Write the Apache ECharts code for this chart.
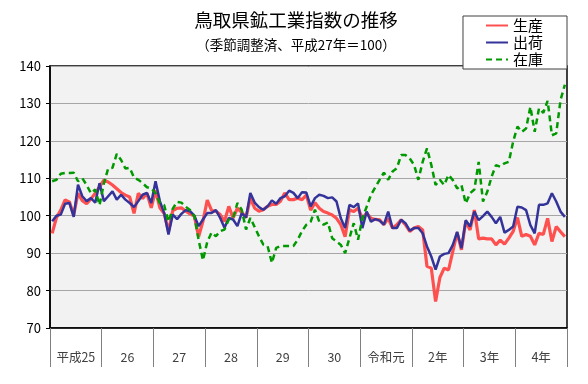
<!DOCTYPE html>
<html><head><meta charset="utf-8">
<script src="https://cdn.jsdelivr.net/npm/echarts@6/dist/echarts.min.js"></script>
<style>html,body{margin:0;padding:0;background:#fff}#c{width:588px;height:384px}</style>
</head><body><div id="c"></div>
<script>
const yearLabels = ['平成25','26','27','28','29','30','令和元','2年','3年','4年'];
const seriesNames = ['生産','出荷','在庫'];
const production = [
 95.3, 99.5, 101.5, 104.2, 103.7, 100.2, 106, 104, 103.2, 104.5, 106, 107.7,
 109.5, 109, 108.2, 107.2, 106.2, 105.5, 105, 100.6, 106, 104.6, 106, 102.1,
 106.8, 102.1, 100.6, 95.8, 101.4, 102, 102.1, 101.2, 100.5, 99.9, 94.4, 98.5,
 104.2, 101.4, 101.2, 100.3, 98.5, 102.5, 99.4, 102, 100.9, 99.5, 104.7, 102,
 101.2, 101.6, 102.5, 103, 103, 103.9, 106.1, 104.3, 104.3, 104.7, 104.3, 105.5,
 101.5, 103.5, 102, 101.1, 100.7, 100.2, 99.3, 97.6, 94.4, 101.6, 101.1, 102,
 99.3, 100.7, 99.3, 99, 98.9, 97.6, 99.3, 96.7, 97.6, 98.9, 97.6, 95.8,
 96.7, 97.1, 96.2, 86.5, 86, 77.1, 83.5, 86, 85.5, 90.5, 95.5, 90.9,
 98.5, 96.2, 101.5, 93.8, 94, 93.8, 93.8, 92.2, 93.5, 92.4, 94, 95.8,
 99.5, 94.5, 95, 94.5, 92.2, 95.3, 95, 99.3, 93.1, 97.1, 95.7, 94.4
];
const shipments = [
 98.5, 100, 100.3, 103.2, 103.4, 99.7, 108.3, 105.2, 103.9, 104.7, 103.5, 108.7,
 103.9, 105.2, 106.5, 104.3, 105.6, 104.3, 103.4, 102.3, 103.9, 105.6, 106.1, 103.4,
 109.2, 103.9, 100.7, 95, 100.3, 99.1, 100.5, 101.5, 101.2, 100, 97.2, 99,
 100.7, 100.7, 101.5, 99.4, 96.8, 99.4, 99, 97.2, 100.7, 99.5, 106.1, 103.5,
 102.3, 101.6, 102.5, 104.1, 103.2, 104.7, 105.2, 106.7, 106.1, 104.7, 106.3, 106.2,
 102.5, 104.7, 105.6, 105.3, 104.7, 104.9, 103.8, 99.3, 96.7, 102.9, 102.3, 103.3,
 96.7, 101.1, 98.4, 99.1, 98.7, 97.6, 101.1, 96.7, 96.7, 98.9, 98, 96,
 96.7, 96.7, 95.3, 91.8, 89.1, 85.6, 89.1, 89.8, 90, 92.2, 95.7, 91.3,
 98.8, 97.1, 101.1, 98.8, 99.9, 101.1, 99.7, 98, 99.7, 95.5, 96.2, 97.1,
 102.4, 102.2, 101.5, 97.5, 95.3, 102.9, 102.9, 103.3, 106, 103.8, 101.1, 99.7
];
const inventory = [
 109.2, 109.6, 111.2, 111.4, 111.4, 111.5, 109.2, 110, 108.2, 106, 107, 102.8,
 108.6, 112.6, 112.8, 116.5, 114.9, 112.6, 112.8, 110.2, 109.6, 108.7, 107.6, 107.3,
 106, 103.3, 102.8, 98.4, 101.9, 103.7, 103.5, 102.4, 101.5, 99.9, 93.5, 88.1,
 93, 95.5, 94.5, 95.9, 96.3, 99, 99.4, 103.4, 101.6, 96.3, 99.4, 97,
 94.5, 92.3, 91.9, 87.4, 91.4, 91.9, 91.9, 91.9, 91.9, 93.6, 95.9, 97.6,
 98.4, 101.6, 98.4, 97.6, 98.2, 94, 93.1, 92.2, 90, 94, 98, 93.6,
 99.3, 102.4, 105.6, 107.6, 109.6, 111.5, 109.6, 111.8, 112.7, 116.2, 116.2, 115.3,
 113.6, 109.6, 114.4, 118, 113.6, 108.2, 109.6, 108.2, 110.9, 109.5, 107.3, 108.2,
 103.3, 106, 107, 114.4, 103.8, 106.4, 110.4, 113.5, 113.1, 114, 114.4, 119.8,
 123.8, 122.4, 123.3, 129.1, 122.4, 128.7, 127.5, 130.7, 121.5, 122, 130.9, 135
];
const monthNums = ['1','2','3','4','5','6','7','8','9','10','11','12'];
const months = [];
yearLabels.forEach(y => monthNums.forEach(m => months.push(y + '-' + m)));

const FONT = '"Noto Sans CJK JP", sans-serif';
const chart = echarts.init(document.getElementById('c'), null, {renderer: 'canvas'});
chart.setOption({
  animation: false,
  backgroundColor: '#fff',
  textStyle: {fontFamily: FONT},
  title: [
    {text: '鳥取県鉱工業指数の推移', left: 291, top: 6, textAlign: 'center',
     textStyle: {fontFamily: FONT, fontSize: 18.5, fontWeight: 'normal', color: '#000'}},
    {text: '（季節調整済、平成27年＝100）', left: 291, top: 33, textAlign: 'center',
     textStyle: {fontFamily: FONT, fontSize: 13.5, fontWeight: 'normal', color: '#000'}}
  ],
  legend: {
    data: seriesNames, orient: 'vertical', right: 21, top: 16,
    backgroundColor: '#fff', borderColor: '#404040', borderWidth: 1,
    padding: [2, 24, 2, 22], itemGap: 2, itemWidth: 22, itemHeight: 14,
    itemStyle: {opacity: 0},
    textStyle: {fontFamily: FONT, fontSize: 15, color: '#000'}
  },
  grid: {left: 50, right: 21, top: 66, bottom: 56, show: true,
    backgroundColor: '#f2f2f2', borderColor: '#000', borderWidth: 1.5},
  xAxis: [
    {type: 'category', data: months, boundaryGap: true,
     axisLine: {show: true, lineStyle: {color: '#000', width: 1.5}},
     axisTick: {show: false}, axisLabel: {show: false}, splitLine: {show: false}},
    {type: 'category', data: yearLabels, boundaryGap: true, position: 'bottom',
     axisLine: {show: false},
     axisTick: {show: true, length: 39, lineStyle: {color: '#808080', width: 1}},
     axisLabel: {margin: 23, fontSize: 12.5, color: '#404040', fontFamily: FONT},
     splitLine: {show: false}}
  ],
  yAxis: {type: 'value', min: 70, max: 140, interval: 10,
    axisLine: {show: true, lineStyle: {color: '#000', width: 1.5}},
    axisTick: {show: true, length: 4, lineStyle: {color: '#000'}},
    axisLabel: {color: '#000', fontSize: 13, margin: 9, fontFamily: FONT},
    splitLine: {show: true, lineStyle: {color: '#a6a6a6', width: 1}}},
  series: [
    {name: seriesNames[0], type: 'line', data: production, symbol: 'none',
     xAxisIndex: 0, lineStyle: {color: '#ff5050', width: 3.2}, itemStyle: {color: '#ff5050'}},
    {name: seriesNames[1], type: 'line', data: shipments, symbol: 'none',
     xAxisIndex: 0, lineStyle: {color: '#333399', width: 2.5}, itemStyle: {color: '#333399'}},
    {name: seriesNames[2], type: 'line', data: inventory, symbol: 'none',
     xAxisIndex: 0, lineStyle: {color: '#009900', width: 2.5, type: [6, 4]}, itemStyle: {color: '#009900'}}
  ]
});
</script></body></html>
